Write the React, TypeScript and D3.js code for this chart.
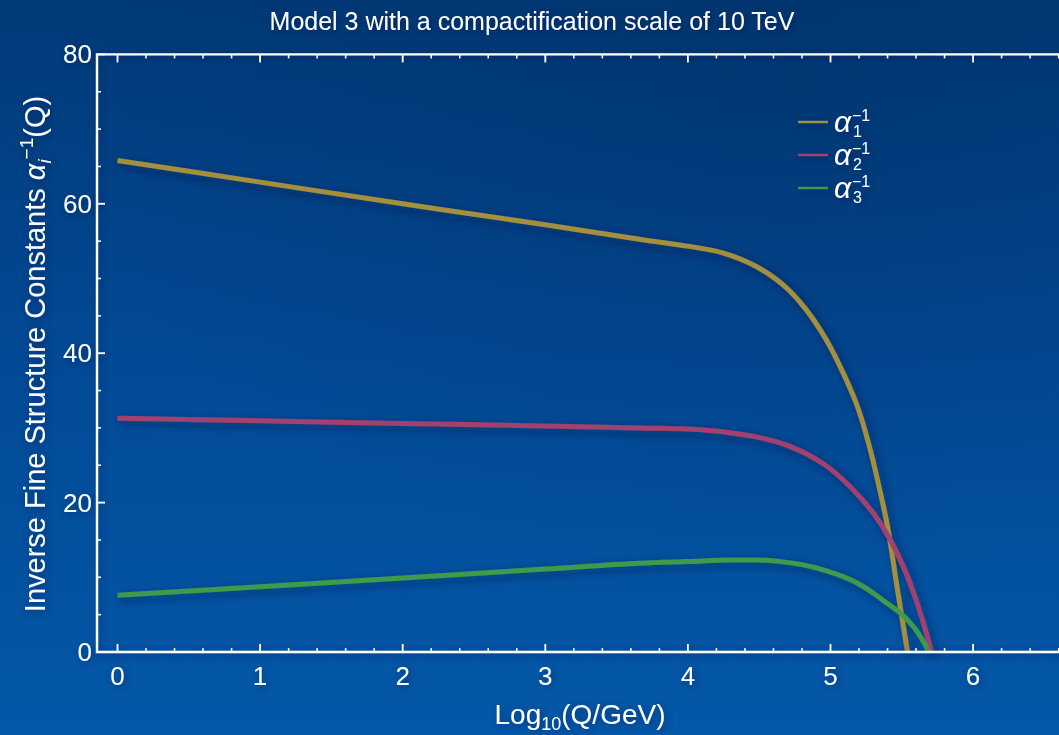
import React from "react";
import * as d3 from "d3";

const W = 1059;
const H = 735;

const titleText = "Model 3 with a compactification scale of 10 TeV";
const xMajorTicks = [0, 1, 2, 3, 4, 5, 6];
const yMajorTicks = [0, 20, 40, 60, 80];

const q1 = [0, 1, 2, 3, 3.66, 4.01, 4.25, 4.48, 4.67, 4.83, 4.97, 5.09, 5.19, 5.28, 5.35, 5.40, 5.47, 5.54];
const alpha1 = [65.8, 62.9, 60.0, 57.2, 55.25, 54.3, 53.4, 51.6, 49.1, 45.8, 41.8, 37.3, 32.8, 27.0, 21.3, 16.8, 8.3, 0];

const q2 = [0, 1, 2, 3, 3.66, 4.13, 4.48, 4.72, 4.95, 5.14, 5.30, 5.42, 5.54, 5.63, 5.71];
const alpha2 = [31.3, 30.95, 30.6, 30.25, 30.0, 29.7, 28.8, 27.5, 25.2, 22.1, 18.6, 15.0, 10.1, 5.2, 0];

const q3 = [0, 1, 2, 3, 3.66, 4.0, 4.3, 4.5, 4.65, 4.8, 4.95, 5.1, 5.19, 5.28, 5.37, 5.49, 5.54, 5.62, 5.69];
const alpha3 = [7.6, 8.75, 9.9, 11.1, 11.87, 12.1, 12.3, 12.3, 12.1, 11.7, 11.0, 10.0, 9.2, 8.15, 6.9, 5.2, 4.3, 2.4, 0];

const seriesNames = ["1", "2", "3"];
const colors = ["#a38f3c", "#a3406f", "#3d9b4b"];

const FONT = "'Liberation Sans', Arial, sans-serif";

export default function App() {
  const x = d3.scaleLinear().domain([0, 6]).range([117.5, 973.1]);
  const y = d3.scaleLinear().domain([0, 80]).range([652, 54.4]);
  const xLeft = 97;
  const xRight = W + 20;
  const yTop = y(80);
  const yBot = y(0);

  const line = d3
    .line<[number, number]>()
    .x((d) => x(d[0]))
    .y((d) => y(d[1]))
    .curve(d3.curveCatmullRom.alpha(0.5));

  const series = [
    q1.map((q, i) => [q, alpha1[i]] as [number, number]),
    q2.map((q, i) => [q, alpha2[i]] as [number, number]),
    q3.map((q, i) => [q, alpha3[i]] as [number, number]),
  ];

  const xMinor = d3.range(-0.0, 7.01, 0.2).filter((v) => Math.abs(v - Math.round(v)) > 1e-6);
  const yMinor = d3.range(0, 80.01, 5).filter((v) => v % 20 !== 0);

  const legendX = 798;
  const legendY = [122, 155, 188];

  return (
    <svg
      width={W}
      height={H}
      style={{ position: "absolute", left: 0, top: 0, display: "block" }}
      fontFamily={FONT}
    >
      <defs>
        <linearGradient id="bg" x1="0" y1="0" x2="0" y2="1">
          <stop offset="0" stopColor="#013a78" />
          <stop offset="0.5" stopColor="#024a96" />
          <stop offset="1" stopColor="#0458a9" />
        </linearGradient>
        <radialGradient id="bg2" cx="0.75" cy="0.1" r="0.7">
          <stop offset="0" stopColor="#002c60" stopOpacity="0.35" />
          <stop offset="1" stopColor="#002c60" stopOpacity="0" />
        </radialGradient>
        <filter id="shadow" x="-20%" y="-20%" width="140%" height="140%">
          <feGaussianBlur in="SourceAlpha" stdDeviation="5" />
          <feOffset dx="3" dy="3" result="b" />
          <feFlood floodColor="#001a40" floodOpacity="0.55" />
          <feComposite in2="b" operator="in" />
          <feMerge>
            <feMergeNode />
            <feMergeNode in="SourceGraphic" />
          </feMerge>
        </filter>
        <filter id="tshadow" x="-20%" y="-50%" width="140%" height="200%">
          <feGaussianBlur in="SourceAlpha" stdDeviation="4" />
          <feOffset dx="2" dy="2" result="b" />
          <feFlood floodColor="#001a40" floodOpacity="0.45" />
          <feComposite in2="b" operator="in" />
          <feMerge>
            <feMergeNode />
            <feMergeNode in="SourceGraphic" />
          </feMerge>
        </filter>
      </defs>
      <rect x={0} y={0} width={W} height={H} fill="url(#bg)" />
      <rect x={0} y={0} width={W} height={H} fill="url(#bg2)" />

      <text
        x={532}
        y={30}
        textAnchor="middle"
        fill="white"
        fontSize={25}
        filter="url(#tshadow)"
      >
        {titleText}
      </text>

      {/* curves */}
      <g filter="url(#shadow)">
        {series.map((s, i) => (
          <path
            key={i}
            d={line(s) || ""}
            fill="none"
            stroke={colors[i]}
            strokeWidth={5}
            strokeLinecap="butt"
          />
        ))}
      </g>

      {/* frame */}
      <g filter="url(#tshadow)" stroke="white" fill="none">
        <path
          d={`M${xRight},${yTop} H${xLeft} V${yBot} H${xRight}`}
          strokeWidth={2.4}
        />
        {xMajorTicks.map((t) => (
          <g key={"xm" + t}>
            <line x1={x(t)} x2={x(t)} y1={yBot} y2={yBot - 8} strokeWidth={1.8} />
            <line x1={x(t)} x2={x(t)} y1={yTop} y2={yTop + 8} strokeWidth={1.8} />
          </g>
        ))}
        {xMinor.map((t, i) => (
          <g key={"xn" + i}>
            <line x1={x(t)} x2={x(t)} y1={yBot} y2={yBot - 4} strokeWidth={1.5} />
            <line x1={x(t)} x2={x(t)} y1={yTop} y2={yTop + 4} strokeWidth={1.5} />
          </g>
        ))}
        {yMajorTicks.map((t) => (
          <line key={"ym" + t} x1={xLeft} x2={xLeft + 8} y1={y(t)} y2={y(t)} strokeWidth={1.8} />
        ))}
        {yMinor.map((t) => (
          <line key={"yn" + t} x1={xLeft} x2={xLeft + 4} y1={y(t)} y2={y(t)} strokeWidth={1.5} />
        ))}
      </g>

      {/* tick labels */}
      <g fill="white" fontSize={26} filter="url(#tshadow)">
        {xMajorTicks.map((t) => (
          <text key={"xl" + t} x={x(t)} y={685} textAnchor="middle">
            {t}
          </text>
        ))}
        {yMajorTicks.map((t) => (
          <text key={"yl" + t} x={92} y={y(t) + 9} textAnchor="end">
            {t}
          </text>
        ))}
      </g>

      {/* axis titles */}
      <g fill="white" filter="url(#tshadow)">
        <text x={580} y={724} textAnchor="middle" fontSize={28}>
          Log
          <tspan fontSize={18} dy={6}>10</tspan>
          <tspan dy={-6}>(Q/GeV)</tspan>
        </text>
        <text
          transform="translate(45,354) rotate(-90)"
          textAnchor="middle"
          fontSize={29}
        >
          Inverse Fine Structure Constants{" "}
          <tspan fontStyle="italic">α</tspan>
          <tspan fontStyle="italic" fontSize={19} dy={6}>i</tspan>
          <tspan fontSize={19} dy={-18}>−1</tspan>
          <tspan dy={12}>(Q)</tspan>
        </text>
      </g>

      {/* legend */}
      <g filter="url(#tshadow)">
        {seriesNames.map((n, i) => (
          <g key={"lg" + n}>
            <line
              x1={legendX}
              x2={legendX + 30}
              y1={legendY[i]}
              y2={legendY[i]}
              stroke={colors[i]}
              strokeWidth={2.4}
            />
            <text x={834} y={legendY[i] + 10} fill="white" fontSize={30}>
              <tspan fontStyle="italic">α</tspan>
              <tspan x={853} y={legendY[i] + 15} fontSize={16}>{n}</tspan>
              <tspan x={852} y={legendY[i] - 1} fontSize={16}>−1</tspan>
            </text>
          </g>
        ))}
      </g>
    </svg>
  );
}
